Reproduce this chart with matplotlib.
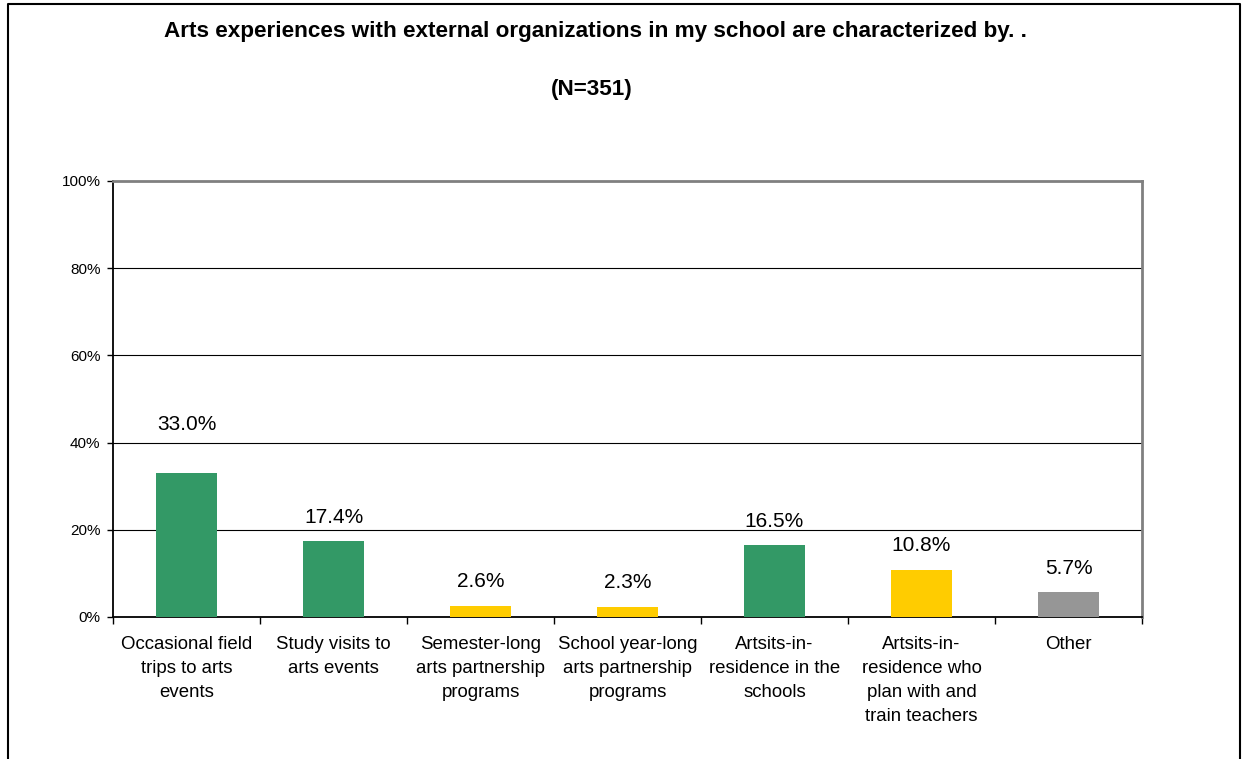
import matplotlib.pyplot as plt
from matplotlib.lines import Line2D
from matplotlib.ticker import FixedLocator, NullFormatter

plt.rcParams['font.family'] = ['Liberation Sans', 'DejaVu Sans']

# 数据
categories = ['Occasional field\ntrips to arts\nevents',
              'Study visits to\narts events',
              'Semester-long\narts partnership\nprograms',
              'School year-long\narts partnership\nprograms',
              'Artsits-in-\nresidence in the\nschools',
              'Artsits-in-\nresidence who\nplan with and\ntrain teachers',
              'Other']
values = [33.0, 17.4, 2.6, 2.3, 16.5, 10.8, 5.7]
colors = ['#339966', '#339966', '#FFCC00', '#FFCC00', '#339966', '#FFCC00', '#969696']
label_gap = [49, 24, 24, 24, 24, 24, 24]  # 标签距柱顶的像素

fig = plt.figure(figsize=(12.43, 7.59), dpi=100)
ax = fig.add_axes([113 / 1243, 1 - 617 / 759, 1029 / 1243, 436 / 759])

x = list(range(len(values)))
ax.bar(x, values, width=0.41, color=colors, zorder=3)
ax.set_xlim(-0.5, len(values) - 0.5)
ax.set_ylim(0, 100)

# 数值标签
for xi, v, gap in zip(x, values, label_gap):
    ax.annotate(f'{v:.1f}%', (xi, v), xytext=(0, gap * 0.72), textcoords='offset points',
                ha='center', va='center', fontsize=15)

# 坐标轴
ax.set_yticks([0, 20, 40, 60, 80, 100])
ax.set_yticklabels([f'{t}%' for t in [0, 20, 40, 60, 80, 100]], fontsize=11)
ax.tick_params(axis='y', direction='out', length=4, width=1, pad=5)
ax.set_xticks(x)
ax.set_xticklabels(categories, fontsize=13.4, linespacing=1.53, va='top')
ax.tick_params(axis='x', length=0, pad=14)
ax.xaxis.set_minor_locator(FixedLocator([i - 0.5 for i in range(len(values) + 1)]))
ax.xaxis.set_minor_formatter(NullFormatter())
ax.tick_params(axis='x', which='minor', direction='out', length=5, width=1)

for y in [20, 40, 60, 80]:
    ax.axhline(y, color='black', linewidth=0.8, zorder=1)

ax.spines['left'].set_color('black')
ax.spines['bottom'].set_color('black')
ax.spines['left'].set_linewidth(1.3)
ax.spines['bottom'].set_linewidth(1.3)
ax.spines['top'].set_color('#808080')
ax.spines['right'].set_color('#808080')
ax.spines['top'].set_linewidth(2)
ax.spines['right'].set_linewidth(2)

# 标题
fig.text(595 / 1243, 1 - 31 / 759, 'Arts experiences with external organizations in my school are characterized by. .',
         ha='center', va='center', fontsize=16.2, fontweight='bold')
fig.text(592 / 1243, 1 - 89 / 759, '(N=351)', ha='center', va='center', fontsize=16.2, fontweight='bold')

# 外框
bx0, bx1, by1 = 8 / 1243, 1240 / 1243, 1 - 4 / 759
fig.add_artist(Line2D([bx0, bx0, bx1, bx1], [0, by1, by1, 0], transform=fig.transFigure,
                      color='black', linewidth=1.5))

plt.savefig('out.png', dpi=100)
